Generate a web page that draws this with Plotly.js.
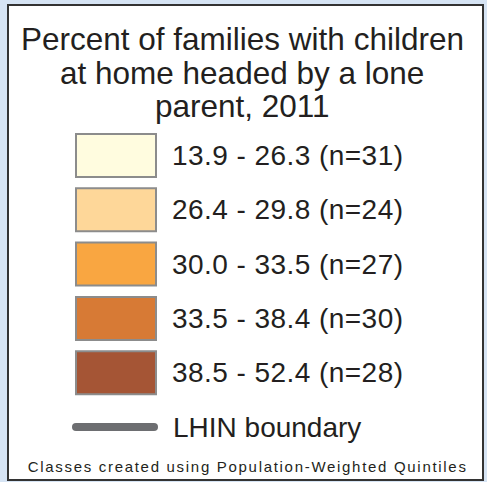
<!DOCTYPE html>
<html><head><meta charset="utf-8">
<script src="https://cdn.plot.ly/plotly-3.0.1.min.js"></script>
<style>
html,body{margin:0;padding:0;background:#d6e4f4;overflow:hidden}
#chart{width:487px;height:482px}
.scatterlayer .js-line{stroke-linecap:round}
.footnote-text text{letter-spacing:1.7px}
.class-text text{letter-spacing:0.45px}
</style></head><body><div id="chart"></div>
<script>
const titleLines = ["Percent of families with children", "at home headed by a lone", "parent, 2011"];
const lowerBounds = ["13.9", "26.4", "30.0", "33.5", "38.5"];
const upperBounds = ["26.3", "29.8", "33.5", "38.4", "52.4"];
const counts = [31, 24, 27, 30, 28];
const classColors = ["#fffcdf", "#fed799", "#f9a641", "#d77a35", "#a55535"];
const boundaryLabel = "LHIN boundary";
const footnote = "Classes created using Population-Weighted Quintiles";

const FONT = "Liberation Sans, Arial, sans-serif";
const TXT = "#231f20";
const shapes = [];
const annotations = [];

// frame
shapes.push({type:"rect", xref:"x", yref:"y", x0:8, x1:483, y0:5, y1:480,
  fillcolor:"#ffffff", line:{color:"#333333", width:2}, layer:"below"});

// title lines
const titleBase = [50, 84, 117];
const titleSize = 31.5;
titleLines.forEach((t, i) => {
  annotations.push({x:242, y:titleBase[i] - 0.36*titleSize, xref:"x", yref:"y", text:t,
    showarrow:false, xanchor:"center", yanchor:"middle",
    font:{family:FONT, size:titleSize, color:TXT}});
});

// class swatches
const sTop = 134, sStep = 54.3, sH = 43;
lowerBounds.forEach((lo, i) => {
  const y0 = sTop + i*sStep;
  shapes.push({type:"rect", xref:"x", yref:"y", x0:76, x1:156, y0:y0, y1:y0+sH,
    fillcolor:classColors[i], line:{color:"#8c8c8c", width:2}});
  annotations.push({x:174, y:y0 + sH/2, xref:"x", yref:"y",
    text: lo + " - " + upperBounds[i] + " (n=" + counts[i] + ")",
    showarrow:false, xanchor:"left", yanchor:"middle",
    font:{family:FONT, size:28, color:TXT}});
});

annotations.push({x:171, y:427, xref:"x", yref:"y", text:boundaryLabel, showarrow:false,
  xanchor:"left", yanchor:"middle", font:{family:FONT, size:28, color:TXT}});
annotations.push({x:247, y:466, xref:"x", yref:"y", text:footnote, showarrow:false,
  xanchor:"center", yanchor:"middle", font:{family:FONT, size:15, color:TXT}});

const traces = [{
  x:[76, 154], y:[427, 427], mode:"lines", type:"scatter",
  line:{color:"#6d6e71", width:8}, hoverinfo:"skip", showlegend:false
}];

const layout = {
  width:487, height:482, margin:{l:0, r:0, t:0, b:0},
  paper_bgcolor:"#d6e4f4", plot_bgcolor:"rgba(0,0,0,0)",
  xaxis:{range:[0,487], visible:false, fixedrange:true},
  yaxis:{range:[482,0], visible:false, fixedrange:true},
  shapes:shapes, annotations:annotations, showlegend:false
};
Plotly.newPlot("chart", traces, layout, {displayModeBar:false, staticPlot:true}).then(() => {
  const anns = document.querySelectorAll(".annotation");
  for (let i = 3; i < 8 && i < anns.length; i++) anns[i].classList.add("class-text");
  const last = anns[anns.length-1];
  if (last) last.classList.add("footnote-text");
});
</script></body></html>
